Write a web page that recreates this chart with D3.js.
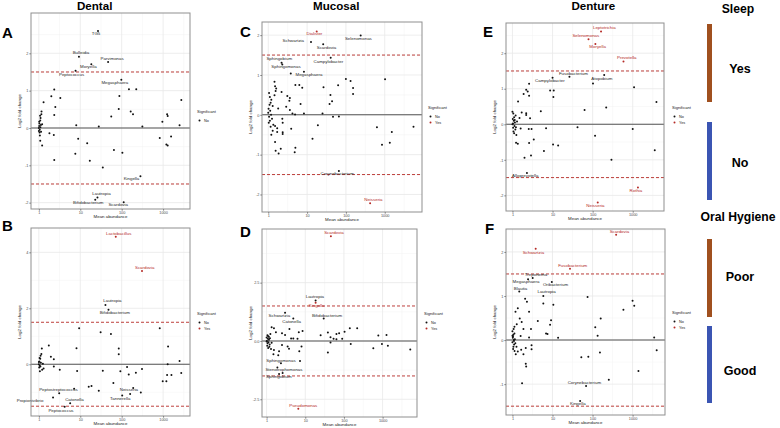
<!DOCTYPE html>
<html>
<head>
<meta charset="utf-8">
<script src="https://cdn.jsdelivr.net/npm/d3@7"></script>
<style>
body { margin: 0; background: #fff; }
svg { display: block; font-family: "Liberation Sans", Arial, sans-serif; }
</style>
</head>
<body>
<svg id="fig" width="780" height="428"></svg>
<script>
// ---- values: [mean abundance, log2 fold change]

// A: Dental, Sleep
const dentalSleepPoints = [
    [2.35, 1.03], [2.0, 0.85], [3.3, 0.80], [1.3, 0.69], [2.5, 0.56], [1.16, 0.44], [2.35, 0.35],
    [88, 0.86], [85, 0.51], [56, 0.31], [150, 1.04], [225, 1.04], [165, 0.44], [188, 0.37],
    [2760, 0.75], [960, 0.17], [1250, 0.37], [1290, 0.32], [2500, 0.07], [8.0, 0.07], [28, 0.04],
    [316, 0.04], [830, -0.27], [1560, -0.23], [1200, -0.44], [1290, -0.47], [8.9, -0.29],
    [14.7, -0.41], [7.6, -0.69], [17, -0.88], [65, -0.59], [104, -0.66], [2.35, -0.86],
    [1.8, -0.14], [2.3, -0.19], [1.2, -0.47], [1.08, -0.34], [35, -1.06],
    [1.0, 0.0], [1.02, 0.05], [1.05, -0.05], [1.03, 0.12], [1.08, 0.2], [1.1, 0.27], [1.04, -0.12],
    [1.06, -0.2], [1.12, 0.08], [1.15, 0.37], [1.0, -0.08], [1.09, 0.02], [1.2, 0.1], [1.13, -0.1],
    [1.02, 0.17], [1.07, 0.33]
];
const dentalSleepTaxa = [
    ['TG5', 26.8, 2.60, 'No'], ['Bulleidia', 9.3, 1.91, 'No'], ['Parvimonas', 47, 1.77, 'No'],
    ['Moryella', 18.5, 1.71, 'No'], ['Peptococcus', 7.7, 1.53, 'No'], ['Megasphaera', 98, 1.29, 'No'],
    ['Kingella', 284, -1.29, 'No'], ['Lautropia', 26, -1.86, 'No'],
    ['Bifidobacterium', 23, -1.92, 'No'], ['Scardovia', 112, -1.99, 'No']
];

// B: Dental, Oral hygiene
const dentalHygienePoints = [
    [9.4, 1.29], [830, 1.29], [31, 1.14], [55, 1.08], [1.74, 0.67], [8.1, 0.57], [85, 0.56],
    [1.18, 0.56], [1320, 0.63], [1.95, 0.27], [85, 0.36], [2.3, 0.18], [2500, 0.12], [1290, 0.0],
    [2.3, -0.08], [1.3, -0.15], [3.2, -0.2], [35, -0.23], [8.4, -0.24], [135, -0.1], [93, -0.25],
    [220, -0.3], [310, -0.17], [148, -0.37], [2750, -0.31], [1250, -0.38], [1590, -0.38],
    [980, -0.61], [1200, -0.61], [63, -0.67], [18.7, -0.78], [16, -0.8], [28, -0.95], [3.1, -1.04],
    [290, -1.01], [160, -1.06],
    [1.0, 0.0], [1.03, 0.1], [1.05, -0.05], [1.1, 0.3], [1.08, 0.2], [1.15, 0.37], [1.02, -0.12],
    [1.06, -0.25], [1.12, 0.05], [1.0, 0.08], [1.2, -0.2], [1.04, 0.22], [1.09, -0.08], [1.25, 0.02]
];
const dentalHygieneTaxa = [
    ['Lactobacillus', 72, 4.56, 'Yes'], ['Scardovia', 310, 3.33, 'Yes'], ['Lautropia', 40.5, 2.12, 'No'],
    ['Bifidobacterium', 48, 1.95, 'No'], ['Peptostreptococcus', 7.1, -0.88, 'No'],
    ['Neisseria', 190, -0.85, 'No'], ['Tannerella', 103, -1.12, 'No'], ['Propionivibrio', 2.2, -1.19, 'No'],
    ['Catonella', 5.7, -1.39, 'No'], ['Peptococcus', 4.2, -1.52, 'No']
];

// C: Mucosal, Sleep
const mucosalSleepPoints = [
    [3.8, 1.04], [1020, 0.89], [100, 0.90], [132, 0.85], [5.0, 0.75], [6.3, 0.75], [7.5, 0.68],
    [26.5, 0.69], [63, 0.74], [153, 0.67], [153, 0.52], [2.2, 0.57], [3.1, 0.47], [3.6, 0.42],
    [40, 0.50], [44, 0.34], [38, 0.27], [6.8, 0.27], [3.5, 0.35], [2.9, 0.20], [1.8, 0.16],
    [3.6, 0.12], [4.2, 0.03], [4.9, 0.01], [8.3, 0.03], [25, 0.03], [46.6, -0.05], [66, -0.04],
    [19, -0.26], [3.9, -0.35], [2.3, -0.1], [2.35, -0.2], [2.35, -0.44], [2.35, -0.48], [1.5, -0.28],
    [1.5, -0.68], [1.7, -0.34], [1.7, -0.43], [13.8, -0.6], [2.1, -0.85], [5, -0.83], [4.8, -0.94],
    [1.55, -0.9], [1.85, -0.97], [630, -0.31], [1520, -0.43], [5500, -0.3], [850, -0.75], [1350, -0.7],
    [1.45, 0.83], [1.5, 0.72], [1.6, 0.66], [1.55, 0.6], [1.45, 0.49],
    [1.05, 0.55], [1.1, 0.45], [1.2, 0.38], [1.15, 0.3], [1.08, 0.25], [1.3, 0.22], [1.02, 0.15],
    [1.12, 0.1], [1.0, 0.05], [1.18, 0.0], [1.05, -0.05], [1.25, -0.1], [1.1, -0.15], [1.03, -0.2],
    [1.35, -0.25], [1.15, -0.3], [1.3, -0.4], [1.2, -0.5]
];
const mucosalSleepTaxa = [
    ['Dialister', 17.7, 2.09, 'Yes'], ['Schwartzia', 12.6, 1.83, 'No'], ['Selenomonas', 240, 1.99, 'No'],
    ['Scardovia', 26, 1.77, 'No'], ['Sphingobium', 2.2, 1.31, 'No'], ['Campylobacter', 40.5, 1.43, 'No'],
    ['Sphingomonas', 2.3, 1.26, 'No'], ['Megasphaera', 8.3, 1.08, 'No'],
    ['Corynebacterium', 66, -1.41, 'No'], ['Neisseria', 420, -2.22, 'Yes']
];

// D: Mucosal, Oral hygiene
const mucosalHygienePoints = [
    [1.35, 0.59], [1.55, 0.54], [1.74, 0.37], [3.9, 0.51], [6.8, 0.37], [8.5, 0.43], [38.5, 0.36],
    [25, 0.24], [64, 0.30], [75, 0.33], [104, 0.39], [142, 0.54], [220, 0.54], [775, 0.23],
    [1260, 0.26], [45, 0.16], [54, 0.10], [64, 0.07], [90, 0.10], [2.5, 0.33], [3.0, 0.26],
    [4.3, 0.11], [4.9, 0.11], [6.3, 0.10], [575, -0.31], [960, -0.13], [1370, -0.21], [5200, -0.37],
    [150, -0.13], [45, -0.07], [38.5, -0.5], [7, -0.44], [8, -0.24], [3.5, -0.24], [3.8, -0.33],
    [2.5, -0.17], [2.1, -0.44], [1.55, -0.39], [1.5, -0.57], [2.0, -0.61], [7.3, -0.86], [1.9, -1.14],
    [1.05, 0.25], [1.1, 0.2], [1.0, 0.15], [1.08, 0.1], [1.15, 0.05], [1.02, 0.0], [1.12, -0.05],
    [1.06, -0.1], [1.2, -0.15], [1.04, -0.2], [1.18, -0.25], [1.1, -0.3], [1.25, 0.3], [1.3, -0.35],
    [1.22, 0.12], [1.0, -0.02], [1.14, 0.18], [1.35, -0.08]
];
const mucosalHygieneTaxa = [
    ['Scardovia', 46, 4.49, 'Yes'], ['Lautropia', 18.5, 1.73, 'No'], ['Kingella', 18.5, 1.64, 'Yes'],
    ['Schwartzia', 3.0, 1.21, 'No'], ['Catonella', 4.9, 0.96, 'No'], ['Bifidobacterium', 30, 0.96, 'No'],
    ['Sphingomonas', 2.35, -0.96, 'No'], ['Stenotrophomonas', 2.6, -1.37, 'No'],
    ['Sphingobium', 2.1, -1.42, 'No'], ['Pseudomonas', 6.6, -2.91, 'Yes']
];

// E: Denture, Sleep
const dentureSleepPoints = [
    [102, 1.15], [1080, 1.04], [2.6, 1.14], [2.2, 0.97], [2.4, 0.92], [2.6, 0.80], [1.9, 0.85],
    [8.7, 0.95], [10.7, 0.95], [10.5, 0.77], [1.38, 0.64], [3900, 0.63], [5.1, 0.37], [63, 0.40],
    [218, 0.47], [1.7, 0.33], [2.2, 0.31], [2.2, 0.26], [2.75, 0.17], [42, -0.08], [6.9, -0.11],
    [2.55, -0.13], [3.0, -0.13], [115, -0.32], [1000, -0.13], [3.4, -0.43], [1.23, -0.52],
    [1.36, -0.55], [2.6, -0.53], [10.3, -0.57], [13.8, -0.6], [6.1, -0.75], [3550, -0.73],
    [2.9, -0.88], [2.0, -0.94], [295, -1.0],
    [1.0, 0.35], [1.05, 0.3], [1.1, 0.2], [1.02, 0.15], [1.08, 0.1], [1.15, 0.05], [1.0, 0.0],
    [1.12, -0.05], [1.04, -0.1], [1.18, -0.15], [1.06, -0.2], [1.1, -0.25], [1.2, 0.25], [1.25, -0.3],
    [1.03, 0.02], [1.14, 0.12], [1.3, 0.08], [1.22, -0.08], [1.5, 0.18], [1.6, -0.12]
];
const dentureSleepTaxa = [
    ['Leptotrichia', 162, 2.61, 'Yes'], ['Selenomonas', 79, 2.39, 'Yes'], ['Moryella', 117, 2.26, 'Yes'],
    ['Prevotella', 588, 1.77, 'Yes'], ['Fusobacterium', 26.4, 1.34, 'No'], ['Campylobacter', 10, 1.31, 'No'],
    ['Atopobium', 194, 1.39, 'No'], ['Alloprevotella', 2.3, -1.37, 'No'],
    ['Rothia', 1350, -1.78, 'Yes'], ['Neisseria', 134, -2.2, 'Yes']
];

// F: Denture, Oral hygiene
const dentureHygienePoints = [
    [75, 0.98], [1000, 0.89], [1100, 0.78], [2.07, 0.94], [2.3, 0.87], [5.9, 0.83], [10.5, 0.80],
    [1.36, 0.72], [2.6, 0.64], [590, 0.69], [1.19, 0.64], [1.52, 0.49], [1.7, 0.41], [9.2, 0.45],
    [4.3, 0.43], [160, 0.49], [8.7, 0.35], [1.28, 0.36], [1.12, 0.30], [117, 0.29], [1.88, 0.25],
    [2.9, 0.25], [6.9, 0.15], [7.5, 0.14], [134, 0.10], [13.8, 0.05], [2.6, 0.06], [1.6, 0.09],
    [3460, 0.06], [4000, -0.23], [153, -0.28], [52.5, -0.39], [78.5, -0.38], [1400, -0.70],
    [3.0, -0.12], [3.0, -0.21], [2.15, -0.18], [1.26, -0.15], [1.36, -0.26], [1.21, -0.32],
    [1.65, -0.22], [1.88, -0.32], [2.15, -0.54], [2.2, -0.60], [1.74, -0.98], [255, -0.90],
    [1.0, 0.2], [1.05, 0.12], [1.02, 0.05], [1.08, 0.0], [1.0, -0.05], [1.1, -0.1], [1.03, 0.08],
    [1.06, -0.15], [1.12, 0.15], [1.04, -0.2], [1.15, 0.02], [1.0, 0.1], [1.09, -0.02], [1.18, -0.07],
    [1.07, 0.25], [1.13, -0.25]
];
const dentureHygieneTaxa = [
    ['Scardovia', 388, 2.39, 'Yes'], ['Schwartzia', 3.8, 2.07, 'Yes'], ['Fusobacterium', 27.4, 1.62, 'Yes'],
    ['Treponema', 3.2, 1.41, 'No'], ['Megasphaera', 2.45, 1.38, 'No'], ['Oribacterium', 9.6, 1.32, 'No'],
    ['Blautia', 1.48, 1.1, 'No'], ['Lautropia', 5.9, 1.0, 'No'], ['Corynebacterium', 69, -1.04, 'No'],
    ['Kingella', 49, -1.38, 'No']
];

const columnTitles = ['Dental', 'Mucosal', 'Denture'];
const sleepGroups = ['Yes', 'No'];
const hygieneGroups = ['Poor', 'Good'];
const foldCutoff = 1.5;

// ---- label offsets (px) from each point, mimicking the repelled labels
const nudgeA = { TG5: [-2, 2.5], Bulleidia: [2, -4], Parvimonas: [4, -3.5], Moryella: [-3, 3], Peptococcus: [-4, 3.7],
    Megasphaera: [-6.5, 3.3], Kingella: [-9, 2.7], Lautropia: [4, -4], Bifidobacterium: [-7, 3], Scardovia: [-5.5, 3] };
const nudgeB = { Lactobacillus: [3, -3.3], Scardovia: [2.7, -3.3], Lautropia: [7, -4], Bifidobacterium: [6.3, 3],
    Peptostreptococcus: [-15.7, 1.3], Neisseria: [-4.3, 2.3], Tannerella: [-2, 3], Propionivibrio: [-23, 3.3],
    Catonella: [4.3, -3.3], Peptococcus: [-3.7, 3.7] };
const nudgeC = { Dialister: [-2.3, 2.7], Schwartzia: [-17.7, -1], Selenomonas: [-2.3, 3.3], Scardovia: [3.3, 3.7],
    Sphingobium: [-2.3, -3.3], Campylobacter: [-2.3, 3.7], Sphingomonas: [3.7, 2.3], Megasphaera: [5, 3],
    Corynebacterium: [-1.7, 3.3], Neisseria: [3.3, -3] };
const nudgeD = { Scardovia: [3, -3], Lautropia: [-0.7, -3.3], Kingella: [1, 3.3], Schwartzia: [-5.7, 3.3],
    Catonella: [-1.7, 3.7], Bifidobacterium: [3.3, -2.7], Sphingomonas: [0, -2.7], Stenotrophomonas: [1.3, -2.7],
    Sphingobium: [-0.3, 3], Pseudomonas: [5, -3.3] };
const nudgeE = { Leptotrichia: [3.3, -3.7], Selenomonas: [-2.7, -3.7], Moryella: [2.3, 3.3], Prevotella: [3.3, -3.3],
    Fusobacterium: [4, -3.3], Campylobacter: [-2.7, 3], Atopobium: [-2.3, 3.7], Alloprevotella: [-1.7, 3],
    Rothia: [-2, 3], Neisseria: [-2.3, 3.3] };
const nudgeF = { Scardovia: [3.3, -3.3], Schwartzia: [-2.3, 3.7], Fusobacterium: [2.7, -3.3], Treponema: [3.3, -3],
    Megasphaera: [-2, 3], Oribacterium: [3.7, 3.3], Blautia: [1.3, -2.3], Lautropia: [3.3, -3.7],
    Corynebacterium: [-1.7, -2.7], Kingella: [-2.3, 3.3] };

const RED = '#b52a26';
const svg = d3.select('#fig');

const numFmt = d => String(d);
const oneDec = d => d3.format('.1f')(d).replace('\u2212', '-');

const panels = [
    { letter: 'A', pts: dentalSleepPoints, taxa: dentalSleepTaxa, nudge: nudgeA, box: [31, 13, 190, 209],
      xDom: [0.646, 4467], yDom: [-2.17, 3.08], yTicks: [-2, -1, 0, 1, 2], fmt: numFmt,
      legend: [197, 112], levels: ['No'], letterPos: [2, 37.5] },
    { letter: 'B', pts: dentalHygienePoints, taxa: dentalHygieneTaxa, nudge: nudgeB, box: [31, 228, 190, 416],
      xDom: [0.646, 4467], yDom: [-1.85, 4.87], yTicks: [0, 2, 4], fmt: numFmt,
      legend: [197, 314], levels: ['No', 'Yes'], letterPos: [2, 230.7] },
    { letter: 'C', pts: mucosalSleepPoints, taxa: mucosalSleepTaxa, nudge: nudgeC, box: [262, 22, 422, 212],
      xDom: [0.69, 9120], yDom: [-2.44, 2.33], yTicks: [-2, -1, 0, 1, 2], fmt: numFmt,
      legend: [428, 108], levels: ['No', 'Yes'], letterPos: [240, 37.3] },
    { letter: 'D', pts: mucosalHygienePoints, taxa: mucosalHygieneTaxa, nudge: nudgeD, box: [262, 229, 417, 417],
      xDom: [0.76, 7760], yDom: [-3.26, 4.8], yTicks: [-2.5, 0, 2.5], fmt: oneDec,
      legend: [424, 314], levels: ['No', 'Yes'], letterPos: [240, 236.7] },
    { letter: 'E', pts: dentureSleepPoints, taxa: dentureSleepTaxa, nudge: nudgeE, box: [506, 23, 664, 211],
      xDom: [0.69, 6030], yDom: [-2.44, 2.85], yTicks: [-2, -1, 0, 1, 2], fmt: numFmt,
      legend: [672, 108], levels: ['No', 'Yes'], letterPos: [483, 37.3] },
    { letter: 'F', pts: dentureHygienePoints, taxa: dentureHygieneTaxa, nudge: nudgeF, box: [506, 229, 665, 415],
      xDom: [0.69, 6450], yDom: [-1.7, 2.52], yTicks: [-1, 0, 1, 2], fmt: numFmt,
      legend: [672, 313], levels: ['No', 'Yes'], letterPos: [485, 234] }
];

function drawPanel(p) {
    const [left, top, right, bottom] = p.box;
    const g = svg.append('g');
    const x = d3.scaleLog().domain(p.xDom).range([left, right]);
    const y = d3.scaleLinear().domain(p.yDom).range([bottom, top]);

    // grid: minor lines halfway between majors
    const xMajor = [1, 10, 100, 1000];
    const xMinor = [0.5, 1.5, 2.5, 3.5].map(e => Math.pow(10, e)).filter(v => v > p.xDom[0] && v < p.xDom[1]);
    const step = p.yTicks[1] - p.yTicks[0];
    const yMinor = d3.range(p.yTicks[0] - step / 2, p.yDom[1], step).filter(v => v > p.yDom[0]);

    g.append('rect').attr('x', left).attr('y', top).attr('width', right - left).attr('height', bottom - top).attr('fill', '#fff');

    g.selectAll('.vminor').data(xMinor).enter().append('line')
        .attr('x1', d => x(d)).attr('x2', d => x(d)).attr('y1', top).attr('y2', bottom)
        .attr('stroke', '#f2f2f2').attr('stroke-width', 0.5);
    g.selectAll('.hminor').data(yMinor).enter().append('line')
        .attr('x1', left).attr('x2', right).attr('y1', d => y(d)).attr('y2', d => y(d))
        .attr('stroke', '#f2f2f2').attr('stroke-width', 0.5);
    g.selectAll('.vmajor').data(xMajor).enter().append('line')
        .attr('x1', d => x(d)).attr('x2', d => x(d)).attr('y1', top).attr('y2', bottom)
        .attr('stroke', '#e8e8e8').attr('stroke-width', 0.8);
    g.selectAll('.hmajor').data(p.yTicks).enter().append('line')
        .attr('x1', left).attr('x2', right).attr('y1', d => y(d)).attr('y2', d => y(d))
        .attr('stroke', '#e8e8e8').attr('stroke-width', 0.8);

    // zero line and fold-change cutoffs
    g.append('line').attr('x1', left).attr('x2', right).attr('y1', y(0)).attr('y2', y(0))
        .attr('stroke', '#555').attr('stroke-width', 1.1);
    g.selectAll('.cut').data([-foldCutoff, foldCutoff]).enter().append('line')
        .attr('x1', left).attr('x2', right).attr('y1', d => y(d)).attr('y2', d => y(d))
        .attr('stroke', RED).attr('stroke-width', 0.9).attr('stroke-dasharray', '3,2');

    // points
    const all = p.pts.map(d => ({ a: d[0], l: d[1], sig: 'No' }))
        .concat(p.taxa.map(d => ({ name: d[0], a: d[1], l: d[2], sig: d[3] })));
    all.sort((u, v) => (u.sig === 'Yes') - (v.sig === 'Yes'));
    g.selectAll('.pt').data(all).enter().append('circle')
        .attr('cx', d => x(d.a)).attr('cy', d => y(d.l)).attr('r', 1)
        .attr('fill', d => d.sig === 'Yes' ? RED : '#111');

    // labels
    g.selectAll('.lab').data(p.taxa).enter().append('text')
        .attr('x', d => x(d[1]) + (p.nudge[d[0]] || [0, 0])[0])
        .attr('y', d => y(d[2]) + (p.nudge[d[0]] || [0, 0])[1])
        .attr('text-anchor', 'middle').attr('dominant-baseline', 'middle')
        .attr('font-size', 4.4).attr('fill', d => d[3] === 'Yes' ? RED : '#262626')
        .text(d => d[0]);

    // border
    g.append('rect').attr('x', left).attr('y', top).attr('width', right - left).attr('height', bottom - top)
        .attr('fill', 'none').attr('stroke', '#8f8f8f').attr('stroke-width', 1);

    // axes
    const xa = g.append('g').attr('transform', `translate(0,${bottom})`)
        .call(d3.axisBottom(x).tickValues(xMajor).tickFormat(d3.format('d')).tickSize(1.8).tickPadding(0.8));
    const ya = g.append('g').attr('transform', `translate(${left},0)`)
        .call(d3.axisLeft(y).tickValues(p.yTicks).tickFormat(p.fmt).tickSize(1.8).tickPadding(0.8));
    [xa, ya].forEach(a => {
        a.select('.domain').remove();
        a.attr('font-size', 3.8).attr('font-family', null);
        a.selectAll('line').attr('stroke', '#333').attr('stroke-width', 0.5);
        a.selectAll('text').attr('fill', '#4d4d4d');
    });

    g.append('text').attr('x', (left + right) / 2).attr('y', bottom + 9)
        .attr('text-anchor', 'middle').attr('font-size', 4.4).attr('fill', '#222').text('Mean abundance');
    g.append('text').attr('transform', `translate(${left - 10},${(top + bottom) / 2}) rotate(-90)`)
        .attr('text-anchor', 'middle').attr('font-size', 4.4).attr('fill', '#222').text('Log2 fold change');

    // legend
    const [lx, ly] = p.legend;
    g.append('text').attr('x', lx).attr('y', ly).attr('dominant-baseline', 'middle')
        .attr('font-size', 4.1).attr('fill', '#222').text('Significant');
    const items = g.selectAll('.leg').data(p.levels).enter().append('g')
        .attr('transform', (d, i) => `translate(${lx},${ly + 8.5 + i * 6})`);
    items.append('circle').attr('cx', 2.5).attr('cy', 0).attr('r', 1)
        .attr('fill', d => d === 'Yes' ? RED : '#111');
    items.append('text').attr('x', 7).attr('y', 0).attr('dominant-baseline', 'middle')
        .attr('font-size', 3.8).attr('fill', '#222').text(d => d);

    // panel letter
    svg.append('text').attr('x', p.letterPos[0]).attr('y', p.letterPos[1])
        .attr('font-size', 15).attr('font-weight', 'bold').text(p.letter);
}

panels.forEach(drawPanel);

// column titles
const colCentres = [94.7, 336.3, 593.3];
svg.selectAll('.coltitle').data(columnTitles).enter().append('text')
    .attr('x', (d, i) => colCentres[i]).attr('y', 10.3)
    .attr('text-anchor', 'middle').attr('font-size', 11.6).attr('font-weight', 'bold').text(d => d);

// group keys on the right
const groupColours = ['#a0501f', '#3b55b3'];
function drawKey(title, titleY, groups, bars, labelY) {
    svg.append('text').attr('x', 738).attr('y', titleY).attr('text-anchor', 'middle')
        .attr('font-size', 12.2).attr('font-weight', 'bold').text(title);
    groups.forEach((grp, i) => {
        svg.append('rect').attr('x', 707).attr('y', bars[i][0]).attr('width', 5)
            .attr('height', bars[i][1] - bars[i][0]).attr('fill', groupColours[i]);
        svg.append('text').attr('x', 740).attr('y', labelY[i]).attr('text-anchor', 'middle')
            .attr('font-size', 12.5).attr('font-weight', 'bold').text(grp);
    });
}
drawKey('Sleep', 12.7, sleepGroups, [[24, 102], [122, 200]], [72.5, 166.5]);
drawKey('Oral Hygiene', 221, hygieneGroups, [[239, 317], [326, 403]], [280.5, 374.5]);
</script>
</body>
</html>
